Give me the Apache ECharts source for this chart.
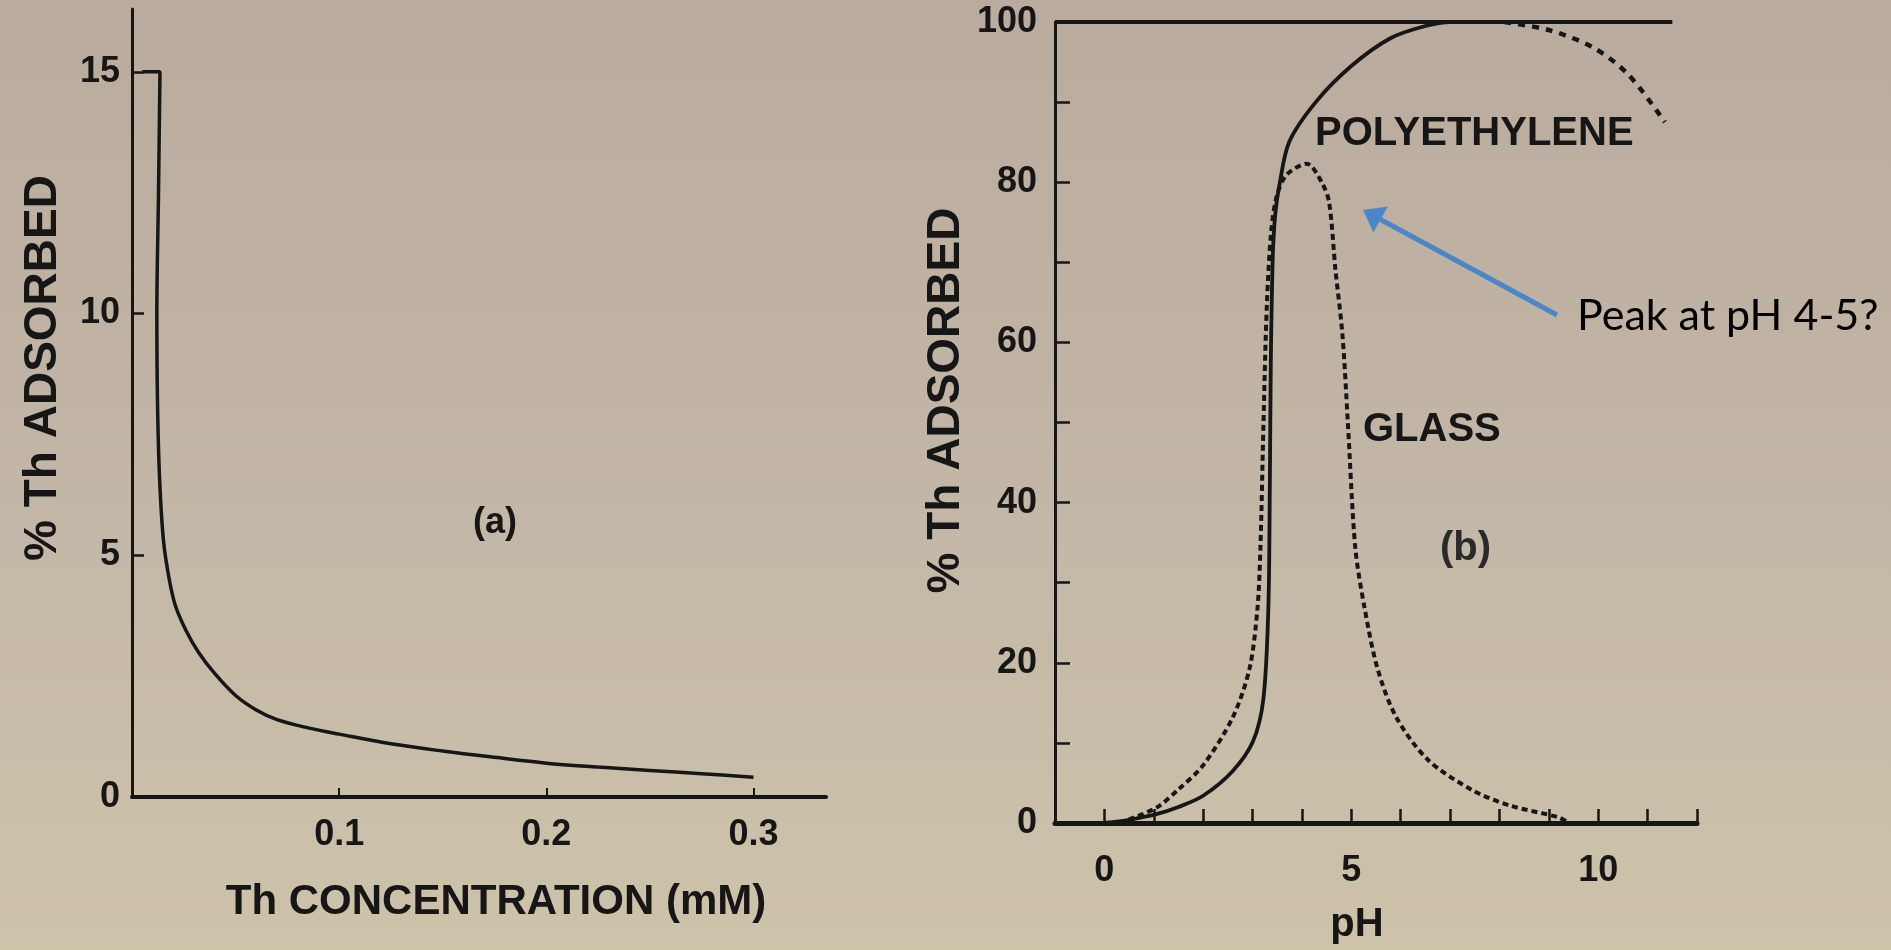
<!DOCTYPE html>
<html>
<head>
<meta charset="utf-8">
<script src="https://cdn.jsdelivr.net/npm/echarts@6/dist/echarts.min.js"></script>
<style>
html,body{margin:0;padding:0;width:1891px;height:950px;overflow:hidden;background:#c0b4a4;}
#chart{width:1891px;height:950px;}
</style>
</head>
<body>
<div id="chart"></div>
<script>
// ---- Panel (a): % Th adsorbed vs Th concentration (mM)
var concA = [0.005, 0.0135, 0.0128, 0.012, 0.0123, 0.0133, 0.0152, 0.018, 0.021, 0.026, 0.032, 0.04, 0.05, 0.06, 0.07, 0.085, 0.1, 0.125, 0.15, 0.175, 0.2, 0.225, 0.25, 0.275, 0.3];
var adsA  = [15, 15, 12.5, 10, 8.2, 6.6, 5.3, 4.5, 3.95, 3.45, 3.0, 2.55, 2.1, 1.8, 1.6, 1.43, 1.3, 1.1, 0.95, 0.82, 0.7, 0.62, 0.55, 0.48, 0.41];
var xTicksA = [0.1, 0.2, 0.3];
var yTicksA = [0, 5, 10, 15];

// ---- Panel (b): % Th adsorbed vs pH
var pHPoly = [0, 0.5, 1.05, 1.5, 2.0, 2.6, 3.01, 3.22, 3.32, 3.35, 3.37, 3.41, 3.46, 3.54, 3.74, 4.28, 5.0, 5.8, 6.5, 7.0, 8.1];
var adsPoly = [0, 0.4, 1.1, 2.0, 3.4, 6.5, 10.2, 15.5, 26.8, 42, 57.5, 70.7, 76, 79.5, 85, 90, 94.5, 98, 99.5, 100, 100];
var pHPolyHigh = [8.1, 9.0, 9.9, 10.6, 11.35];
var adsPolyHigh = [100, 99, 96.8, 93.5, 87.5];
var pHGlass = [0.3, 1.05, 1.5, 2.0, 2.6, 2.94, 3.1, 3.16, 3.22, 3.29, 3.38, 3.5, 3.7, 4.1, 4.4, 4.55, 4.68, 4.82, 4.93, 5.08, 5.27, 5.53, 5.91, 6.55, 7.45, 8.2, 9.2, 9.4];
var adsGlass = [0, 1.9, 4.2, 7.2, 13.2, 19.3, 26.8, 34.4, 49.5, 64.7, 74, 78.5, 81, 82.3, 80, 77.5, 69, 61, 50, 34.4, 26.8, 19.3, 13.2, 7.9, 4.1, 2.2, 0.7, 0];
var pHFrame = [-1, 11.5];
var adsFrame = [100, 100];
var xLabelsB = [0, 5, 10];
var yLabelsB = [0, 20, 40, 60, 80, 100];

function zip(a, b) { return a.map(function (v, i) { return [v, b[i]]; }); }

var INK = '#161616';
var FONT = "'Liberation Sans', Arial, sans-serif";
var tickFont = { fontFamily: FONT, fontWeight: 'bold', fontSize: 36, color: INK };

var chart = echarts.init(document.getElementById('chart'));

var bg = new echarts.graphic.LinearGradient(0, 0, 0, 1, [
  { offset: 0, color: '#b9ab9d' },
  { offset: 0.55, color: '#c3b7a7' },
  { offset: 1, color: '#cdc3a9' }
]);

var option = {
  backgroundColor: bg,
  animation: false,
  grid: [
    { left: 132, top: 9, width: 694, height: 788 },
    { left: 1055, top: 22, width: 642, height: 801 }
  ],
  xAxis: [
    {
      gridIndex: 0, type: 'value', min: 0, max: 0.335, interval: 0.1,
      name: 'Th CONCENTRATION (mM)', nameLocation: 'middle', nameGap: 84,
      nameTextStyle: { fontFamily: FONT, fontWeight: 'bold', fontSize: 42, color: INK, padding: [0, 0, 0, 34] },
      axisLine: { show: true, onZero: false, lineStyle: { color: INK, width: 4 } },
      axisTick: { show: true, inside: true, length: 9, lineStyle: { color: INK, width: 2 } },
      axisLabel: Object.assign({ margin: 20, showMaxLabel: false,
        formatter: function (v) { var r = Math.round(v * 10) / 10; return xTicksA.indexOf(r) >= 0 ? r.toFixed(1) : ''; } }, tickFont),
      splitLine: { show: false }
    },
    {
      gridIndex: 1, type: 'value', min: -1, max: 12, interval: 1,
      name: 'pH', nameLocation: 'middle', nameGap: 82,
      nameTextStyle: { fontFamily: FONT, fontWeight: 'bold', fontSize: 40, color: INK, padding: [0, 38, 0, 0] },
      axisLine: { show: true, onZero: false, lineStyle: { color: INK, width: 5 } },
      axisTick: { show: true, inside: true, length: 14, lineStyle: { color: INK, width: 2.5 } },
      axisLabel: Object.assign({ margin: 30,
        formatter: function (v) { return xLabelsB.indexOf(v) >= 0 ? String(v) : ''; } }, tickFont),
      splitLine: { show: false }
    }
  ],
  yAxis: [
    {
      gridIndex: 0, type: 'value', min: 0, max: 16.3, interval: 5,
      name: '% Th ADSORBED', nameLocation: 'middle', nameRotate: 90, nameGap: 66,
      nameTextStyle: { fontFamily: FONT, fontWeight: 'bold', fontSize: 46, color: INK, padding: [0, 0, 0, 70] },
      axisLine: { show: true, onZero: false, lineStyle: { color: INK, width: 3 } },
      axisTick: { show: true, inside: true, length: 12, lineStyle: { color: INK, width: 2.5 } },
      axisLabel: Object.assign({ margin: 12, showMaxLabel: false,
        formatter: function (v) { return yTicksA.indexOf(v) >= 0 ? String(v) : ''; } }, tickFont),
      splitLine: { show: false }
    },
    {
      gridIndex: 1, type: 'value', min: 0, max: 100, interval: 10,
      name: '% Th ADSORBED', nameLocation: 'middle', nameRotate: 90, nameGap: 86,
      nameTextStyle: { fontFamily: FONT, fontWeight: 'bold', fontSize: 46, color: INK, padding: [0, 0, 0, 44] },
      axisLine: { show: true, onZero: false, lineStyle: { color: INK, width: 3 } },
      axisTick: { show: true, inside: true, length: 15, lineStyle: { color: INK, width: 2.5 } },
      axisLabel: Object.assign({ margin: 18,
        formatter: function (v) { return yLabelsB.indexOf(v) >= 0 ? String(v) : ''; } }, tickFont),
      splitLine: { show: false }
    }
  ],
  series: [
    {
      name: 'Th adsorbed (a)', type: 'line', xAxisIndex: 0, yAxisIndex: 0,
      data: zip(concA, adsA), smooth: 0.35, showSymbol: false,
      lineStyle: { color: INK, width: 3.5 }
    },
    {
      name: 'Frame 100%', type: 'line', xAxisIndex: 1, yAxisIndex: 1,
      data: zip(pHFrame, adsFrame), showSymbol: false,
      lineStyle: { color: INK, width: 4 }
    },
    {
      name: 'POLYETHYLENE', type: 'line', xAxisIndex: 1, yAxisIndex: 1,
      data: zip(pHPoly, adsPoly), smooth: 0.3, showSymbol: false,
      lineStyle: { color: INK, width: 3.8 }
    },
    {
      name: 'POLYETHYLENE (high pH)', type: 'line', xAxisIndex: 1, yAxisIndex: 1,
      data: zip(pHPolyHigh, adsPolyHigh), smooth: 0.3, showSymbol: false,
      lineStyle: { color: INK, width: 4.5, type: [7, 7] }
    },
    {
      name: 'GLASS', type: 'line', xAxisIndex: 1, yAxisIndex: 1,
      data: zip(pHGlass, adsGlass), smooth: 0.3, showSymbol: false,
      lineStyle: { color: INK, width: 4, type: [6, 4] }
    }
  ],
  graphic: [
    { type: 'text', left: 473, top: 505, style: { text: '(a)', font: 'bold 36px ' + FONT, fill: INK } },
    { type: 'text', left: 1440, top: 529, style: { text: '(b)', font: 'bold 40px ' + FONT, fill: '#2a2a2a' } },
    { type: 'text', left: 1315, top: 114, style: { text: 'POLYETHYLENE', font: 'bold 40px ' + FONT, fill: INK } },
    { type: 'text', left: 1363, top: 410, style: { text: 'GLASS', font: 'bold 40px ' + FONT, fill: INK } },
    { type: 'text', left: 1577, top: 295, style: { text: 'Peak at pH 4-5?', font: '43px Lato, "Open Sans", sans-serif', fill: '#000000' } },
    { type: 'line', shape: { x1: 1557, y1: 315, x2: 1380.6, y2: 219.5 }, style: { stroke: '#4a86c8', lineWidth: 5 } },
    { type: 'polygon', shape: { points: [[1363, 210], [1387.8, 206.4], [1373.4, 232.6]] }, style: { fill: '#4a86c8' } }
  ]
};
chart.setOption(option);
</script>
</body>
</html>
